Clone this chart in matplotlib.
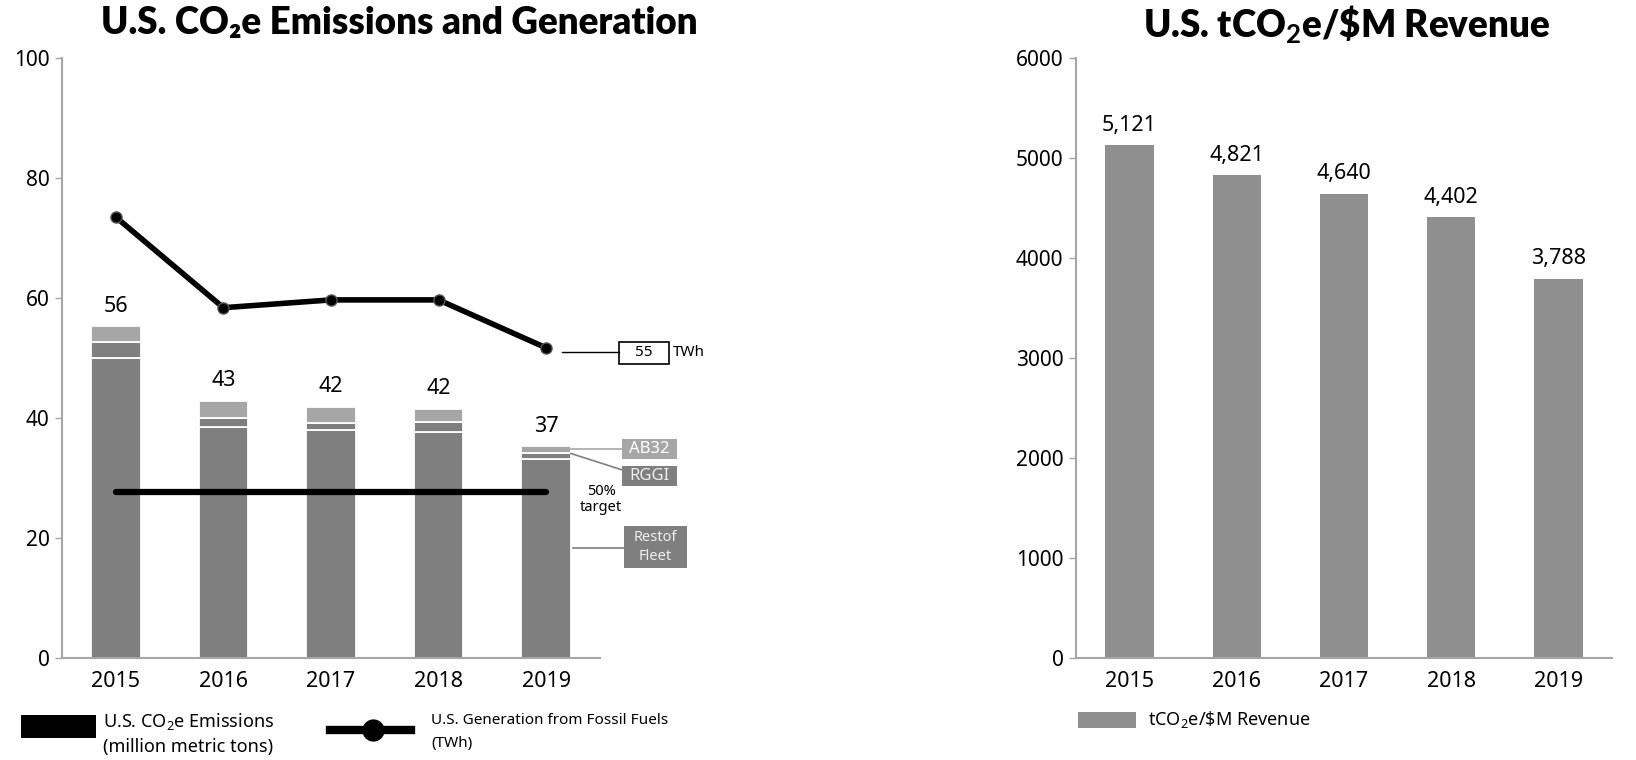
import matplotlib
matplotlib.use('Agg')
import matplotlib.pyplot as plt
from matplotlib.patches import Rectangle
from matplotlib.lines import Line2D

plt.rcParams['font.family'] = ['Noto Sans', 'DejaVu Sans']
plt.rcParams['mathtext.fontset'] = 'custom'
plt.rcParams['mathtext.rm'] = 'Noto Sans'
plt.rcParams['mathtext.bf'] = 'Lato:bold'

years = ['2015', '2016', '2017', '2018', '2019']
rest_of_fleet = [50.0, 38.4, 38.0, 37.6, 33.1]
rggi = [2.6, 1.6, 1.1, 1.6, 1.0]
ab32 = [2.6, 2.8, 2.7, 2.3, 1.1]
emission_labels = ['56', '43', '42', '42', '37']
fossil_twh = [73.4, 58.3, 59.6, 59.6, 51.6]
target_level = 27.6
revenue_intensity = [5121, 4821, 4640, 4402, 3788]

W, H = 1636, 760
DARK = '#7f7f7f'
LIGHT = '#a6a6a6'
SPINE = '#a6a6a6'

fig = plt.figure(figsize=(W / 100, H / 100), dpi=100)


def px(x, y):
    return x / W, 1 - y / H


def style_axis(ax):
    for s in ['top', 'right']:
        ax.spines[s].set_visible(False)
    for s in ['left', 'bottom']:
        ax.spines[s].set_color(SPINE)
        ax.spines[s].set_linewidth(1.5)
    ax.tick_params(axis='y', length=5, width=1, color=SPINE, labelsize=15, pad=4)
    ax.tick_params(axis='x', length=0, labelsize=15.5, pad=10)


# ---- left chart ----
ax1 = fig.add_axes([62 / W, 1 - 657.5 / H, 538 / W, 600 / H])
x = range(len(years))
bw = 0.46
ax1.bar(x, rest_of_fleet, bw, color=DARK, edgecolor='white', linewidth=1.3)
b2 = [r for r in rest_of_fleet]
ax1.bar(x, rggi, bw, bottom=b2, color=DARK, edgecolor='white', linewidth=1.3)
b3 = [r + g for r, g in zip(rest_of_fleet, rggi)]
ax1.bar(x, ab32, bw, bottom=b3, color=LIGHT, edgecolor='white', linewidth=1.3)
totals = [b + a for b, a in zip(b3, ab32)]
for i, (t, lab) in enumerate(zip(totals, emission_labels)):
    ax1.annotate(lab, (i, t), xytext=(0, 7), textcoords='offset points',
                 ha='center', va='bottom', fontsize=15.5)

ax1.plot([0, len(years) - 1], [target_level, target_level], color='black', lw=4.5,
         solid_capstyle='round', zorder=3)
ax1.plot(x, fossil_twh, color='black', lw=4, marker='o', markersize=8,
         markerfacecolor='black', markeredgecolor='#555555', zorder=4)

ax1.set_xlim(-0.5, 4.5)
ax1.set_ylim(0, 100)
ax1.set_yticks(range(0, 101, 20))
ax1.set_xticks(list(x))
ax1.set_xticklabels(years)
style_axis(ax1)

# side annotations
ax1.plot([4.15, 4.68], [50.9, 50.9], color='black', lw=1, clip_on=False)
ax1.add_patch(Rectangle((4.68, 49.0), 0.46, 3.6, facecolor='white', edgecolor='black',
                        lw=1.2, clip_on=False))
ax1.text(4.91, 50.8, '55', ha='center', va='center', fontsize=11, clip_on=False)
ax1.text(5.18, 50.8, 'TWh', ha='left', va='center', fontsize=11, clip_on=False)

ax1.plot([4.23, 4.70], [34.7, 34.7], color=LIGHT, lw=1.2, clip_on=False)
ax1.add_patch(Rectangle((4.70, 33.1), 0.52, 3.3, facecolor=LIGHT, edgecolor='none',
                        clip_on=False))
ax1.text(4.96, 34.75, 'AB32', ha='center', va='center', fontsize=12, color='white')

ax1.plot([4.23, 4.70], [34.0, 31.3], color=DARK, lw=1.2, clip_on=False)
ax1.add_patch(Rectangle((4.70, 28.6), 0.52, 3.3, facecolor=DARK, edgecolor='none',
                        clip_on=False))
ax1.text(4.96, 30.25, 'RGGI', ha='center', va='center', fontsize=12, color='#eeeeee')

ax1.text(4.51, 26.3, '50%\ntarget', ha='center', va='center', fontsize=10.5,
         linespacing=1.1)

ax1.plot([4.25, 4.72], [18.25, 18.25], color=DARK, lw=1.2, clip_on=False)
ax1.add_patch(Rectangle((4.72, 14.9), 0.59, 7.0, facecolor=DARK, edgecolor='none',
                        clip_on=False))
ax1.text(5.015, 18.4, 'Restof\nFleet', ha='center', va='center', fontsize=10.5,
         color='#eeeeee', linespacing=1.4)

fig.text(*px(399, 23), 'U.S. CO₂e Emissions and Generation', ha='center', va='center',
         fontsize=26.5, fontweight='heavy', family=['Lato', 'DejaVu Sans'])

# left legend
fig.add_artist(Rectangle(px(21, 738), 75 / W, 23 / H, facecolor='black',
                         edgecolor='none', transform=fig.transFigure))
fig.text(*px(103, 721), 'U.S. CO$_2$e Emissions', ha='left', va='center', fontsize=13)
fig.text(*px(103, 747), '(million metric tons)', ha='left', va='center', fontsize=13)
fig.add_artist(Line2D([330 / W, 411 / W], [1 - 730 / H, 1 - 730 / H], color='black',
                      lw=6, transform=fig.transFigure))
fig.add_artist(Line2D([373 / W], [1 - 730 / H], marker='o', markersize=15,
                      color='black', transform=fig.transFigure))
fig.text(*px(431, 720), 'U.S. Generation from Fossil Fuels', ha='left', va='center',
         fontsize=11)
fig.text(*px(431, 743), '(TWh)', ha='left', va='center', fontsize=11)

# ---- right chart ----
ax2 = fig.add_axes([1076 / W, 1 - 657.5 / H, 536 / W, 600 / H])
ax2.bar(x, revenue_intensity, 0.45, color='#8f8f8f')
for i, v in enumerate(revenue_intensity):
    ax2.annotate(f'{v:,}', (i, v), xytext=(0, 7), textcoords='offset points',
                 ha='center', va='bottom', fontsize=15.5)
ax2.set_xlim(-0.5, 4.5)
ax2.set_ylim(0, 6000)
ax2.set_yticks(range(0, 6001, 1000))
ax2.set_xticks(list(x))
ax2.set_xticklabels(years)
style_axis(ax2)

fig.text(*px(1347, 25), r'U.S. tCO$_\mathbf{2}$e/\$M Revenue', ha='center', va='center',
         fontsize=26.5, fontweight='heavy', family=['Lato', 'DejaVu Sans'])

fig.add_artist(Rectangle(px(1078, 728), 58 / W, 16 / H, facecolor='#8f8f8f',
                         edgecolor='none', transform=fig.transFigure))
fig.text(*px(1148, 719), 'tCO$_2$e/\\$M Revenue', ha='left', va='center', fontsize=13)

fig.savefig('out.png', dpi=100)
